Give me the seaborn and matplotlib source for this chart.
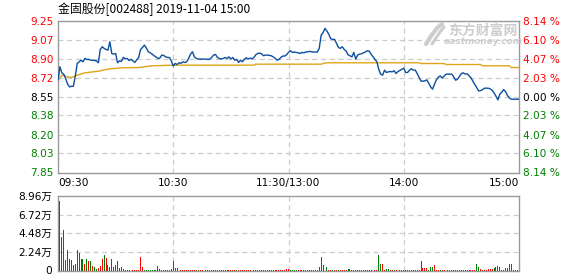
import numpy as np
import pandas as pd
import matplotlib
matplotlib.use("Agg")
import matplotlib.pyplot as plt
from matplotlib.lines import Line2D
import seaborn as sns

# ---------------- data ----------------
title = "金固股份[002488] 2019-11-04 15:00"
pre_close = 8.55
price_ticks = [9.25, 9.07, 8.90, 8.72, 8.55, 8.38, 8.20, 8.03, 7.85]
price_labels = ["9.25", "9.07", "8.90", "8.72", "8.55", "8.38", "8.20", "8.03", "7.85"]
pct_labels = ["8.14 %", "6.10 %", "4.07 %", "2.03 %", "0.00 %", "2.03 %", "4.07 %", "6.10 %", "8.14 %"]
label_side = ["up", "up", "up", "up", "flat", "down", "down", "down", "down"]
time_ticks = [0, 60, 120, 180, 240]
time_labels = ["09:30", "10:30", "11:30/13:00", "14:00", "15:00"]
vol_ticks = [0, 2.24, 4.48, 6.72, 8.96]
vol_labels = ["0", "2.24万", "4.48万", "6.72万", "8.96万"]

price = [
    8.703, 8.827, 8.771, 8.759, 8.718, 8.666, 8.641, 8.647, 8.647, 8.740,
    8.858, 8.873, 8.888, 8.873, 8.904, 8.895, 8.895, 8.888, 8.888, 8.885,
    8.882, 8.864, 8.987, 9.012, 8.997, 8.987, 8.981, 9.058, 8.950, 8.944,
    8.950, 8.864, 8.882, 8.876, 8.913, 8.901, 8.904, 8.885, 8.895, 8.882,
    8.867, 8.892, 8.913, 8.987, 9.006, 9.027, 9.000, 8.966, 8.956, 8.944,
    8.929, 8.919, 8.904, 8.907, 8.935, 8.932, 8.919, 8.913, 8.913, 8.882,
    8.833,
    8.858, 8.848, 8.864, 8.858, 8.873, 8.867, 8.873, 8.904, 8.944, 8.966,
    8.919, 8.904, 8.898, 8.898, 8.898, 8.898, 8.898, 8.895, 8.898, 8.913,
    8.935, 8.941, 8.913, 8.904, 8.898, 8.904, 8.913, 8.904, 8.919, 8.898,
    8.913, 8.888, 8.895, 8.867, 8.888, 8.873, 8.895, 8.910, 8.898, 8.907,
    8.901, 8.913, 8.938, 8.950, 8.953, 8.947, 8.929, 8.935, 8.935, 8.932,
    8.929, 8.919, 8.907, 8.888, 8.895, 8.913, 8.926, 8.926, 8.938, 8.960,
    8.975, 8.960, 8.963, 8.960, 8.956, 8.950, 8.960, 8.956, 8.963, 8.966,
    8.969, 8.966, 8.963, 8.963, 8.963, 8.997, 9.120, 9.142, 9.182, 9.157,
    9.126, 9.086, 9.080, 9.080, 9.043, 9.006, 8.997, 9.012, 8.987, 8.972,
    8.938, 8.929, 8.919, 8.960, 8.898, 8.935, 8.944, 8.947, 8.956, 8.963,
    8.975, 8.972, 8.944, 8.919, 8.895, 8.873, 8.802, 8.759, 8.749, 8.796,
    8.774, 8.780, 8.783, 8.780, 8.790, 8.765, 8.783, 8.793, 8.802, 8.814,
    8.774, 8.774, 8.796, 8.808, 8.796, 8.796, 8.765, 8.728, 8.694, 8.694,
    8.697, 8.706, 8.675, 8.641, 8.620, 8.666, 8.706, 8.731, 8.743, 8.722,
    8.740, 8.759, 8.759, 8.759, 8.759, 8.734, 8.703, 8.712, 8.737, 8.765,
    8.771, 8.759, 8.762, 8.743, 8.725, 8.694, 8.663, 8.635, 8.604, 8.607,
    8.616, 8.629, 8.629, 8.629, 8.623, 8.610, 8.586, 8.555, 8.521, 8.573,
    8.592, 8.616, 8.598, 8.561, 8.539, 8.527, 8.527, 8.527, 8.527, 8.527,
]

avg_minute = [0, 2, 5, 7, 10, 14, 21, 26, 33, 42, 49, 61, 102, 103, 120,
              137, 138, 140, 188, 189, 201, 202, 220, 221, 235, 236, 240]
avg_price = [8.700, 8.749, 8.734, 8.728, 8.749, 8.771, 8.786, 8.805, 8.817, 8.820,
             8.836, 8.842, 8.842, 8.851, 8.851, 8.851, 8.857, 8.864, 8.864, 8.857,
             8.857, 8.848, 8.848, 8.836, 8.836, 8.820, 8.820]

volume = [
    0.00, 8.35, 4.08, 4.89, 1.22, 2.45, 1.43, 1.22, 0.61, 0.82,
    2.45, 2.16, 1.43, 1.43, 0.82, 1.43, 1.10, 1.18, 0.49, 0.41,
    0.20, 0.29, 0.49, 1.34, 1.83, 1.51, 0.69, 0.41, 1.34, 0.41,
    0.61, 1.10, 0.29, 0.41, 0.24, 0.12, 0.12, 0.12, 0.20, 0.12,
    0.12, 0.12, 0.12, 1.63, 0.40, 0.12, 0.12, 0.12, 0.12, 0.12,
    0.12, 0.12, 0.55, 0.15, 0.12, 0.12, 0.12, 0.12, 0.12, 0.15,
    1.10, 0.34, 0.25, 0.12, 0.10, 0.10, 0.10, 0.10, 0.10, 0.10,
    0.10, 0.10, 0.10, 0.10, 0.10, 0.10, 0.10, 0.10, 0.10, 0.10,
    0.10, 0.10, 0.10, 0.10, 0.10, 0.10, 0.10, 0.10, 0.10, 0.10,
    0.10, 0.10, 0.10, 0.10, 0.10, 0.10, 0.10, 0.10, 0.10, 0.10,
    0.10, 0.10, 0.10, 0.10, 0.10, 0.10, 0.10, 0.10, 0.10, 0.10,
    0.10, 0.10, 0.10, 0.10, 0.10, 0.10, 0.10, 0.10, 0.10, 0.15,
    0.20, 0.10, 0.10, 0.10, 0.10, 0.10, 0.10, 0.10, 0.10, 0.10,
    0.10, 0.10, 0.10, 0.10, 0.10, 0.10, 0.41, 1.63, 0.61, 0.49,
    0.37, 0.10, 0.10, 0.10, 0.10, 0.10, 0.10, 0.10, 0.10, 0.10,
    0.10, 0.24, 0.24, 0.10, 0.10, 0.10, 0.10, 0.10, 0.10, 0.10,
    0.10, 0.10, 0.10, 0.10, 0.24, 0.10, 0.10, 1.83, 0.73, 0.73,
    0.12, 0.24, 0.24, 0.12, 0.10, 0.10, 0.10, 0.10, 0.10, 0.10,
    0.10, 0.10, 0.10, 0.10, 0.10, 0.10, 0.10, 0.10, 0.10, 1.13,
    0.25, 0.25, 0.25, 0.10, 0.37, 0.37, 0.61, 0.10, 0.10, 0.10,
    0.10, 0.10, 0.10, 0.10, 0.10, 0.10, 0.10, 0.10, 0.10, 0.10,
    0.10, 0.10, 0.10, 0.10, 0.10, 0.10, 0.10, 0.10, 0.84, 0.37,
    0.20, 0.12, 0.12, 0.12, 0.15, 0.15, 0.20, 0.29, 0.37, 0.49,
    0.37, 0.12, 0.12, 0.25, 0.25, 0.84, 0.84, 0.12, 0.12, 0.05,
    0.84,
]

updown = "".join([
    "r",
    "rggrgrgrrr", "gggrgrgrgg", "rrrgrgrgrg", "grrrgrggrr",
    "rrrrgggggg", "grgggggggg", "rrrrrrrrrr", "rrgrrrrrrr",
    "grrrrrrrrr", "rrgrrrrrrr", "rgrrrrrrrr", "grrrrrrrrr",
    "ggggrrrrrr", "ggrrrrrgrg", "rrgrrgrrrr", "ggrrrrrrrr",
    "rrrgrrggrr", "ggrrgrrgrr", "rrgrrrrrgr", "rrgggrrrgr",
    "rrrrrrgrrr", "rrgrrrrggr", "rrrrrrgggr", "rrggggggrr",
])

# ---------------- styling ----------------
sns.set_style("white")
plt.rcParams["font.family"] = ["DejaVu Sans", "Noto Sans CJK SC"]

RED = "#ff0000"
GREEN = "#008000"
GRID = "#cccccc"
FRAME = "#9a9a9a"
BLUE = "#0c4f9e"
ORANGE = "#e0a418"
W, H = 578, 276

fig = plt.figure(figsize=(W / 100, H / 100), dpi=100)
fig.patch.set_facecolor("white")

L, R = 58, 519
ax = fig.add_axes([L / W, 1 - 172.5 / H, (R - L) / W, (172.5 - 21) / H])
axv = fig.add_axes([L / W, 1 - 270.5 / H, (R - L) / W, (270.5 - 196) / H])

minutes = np.arange(len(price))
df = pd.DataFrame({"minute": minutes, "price": price})
dfa = pd.DataFrame({"minute": avg_minute, "avg": avg_price})

sns.lineplot(data=dfa, x="minute", y="avg", ax=ax, color=ORANGE, lw=1.0, zorder=3)
sns.lineplot(data=df, x="minute", y="price", ax=ax, color=BLUE, lw=1.0, zorder=4)

ax.set_xlim(0, 240)
ax.set_ylim(price_ticks[-1], price_ticks[0])
ax.set_xlabel("")
ax.set_ylabel("")
dash = (0, (4, 3))
for t in price_ticks[1:-1]:
    ax.axhline(t, color=GRID, lw=0.9, ls=dash, zorder=1)
for t in time_ticks[1:-1]:
    ax.axvline(t, color=GRID, lw=0.9, ls=dash, zorder=1)

ax.set_yticks(price_ticks)
ax.set_yticklabels(price_labels, fontsize=7.6)
side_color = {"up": RED, "flat": "black", "down": GREEN}
for lab, s in zip(ax.get_yticklabels(), label_side):
    lab.set_color(side_color[s])
ax.set_xticks(time_ticks)
ax.set_xticklabels(time_labels, fontsize=7.6, color="black")
xl = ax.get_xticklabels()
xl[0].set_horizontalalignment("left")
xl[-1].set_horizontalalignment("right")
ax.tick_params(length=0, pad=3)
ax.tick_params(axis="x", pad=4)

ax2 = ax.twinx()
ax2.set_ylim(price_ticks[-1], price_ticks[0])
ax2.set_yticks(price_ticks)
ax2.set_yticklabels(pct_labels, fontsize=7.6)
for lab, s in zip(ax2.get_yticklabels(), label_side):
    lab.set_color(side_color[s])
ax2.tick_params(length=0, pad=3)
for sp in ax2.spines.values():
    sp.set_visible(False)

for sp in ax.spines.values():
    sp.set_visible(True)
    sp.set_color(FRAME)
    sp.set_linewidth(1.0)

# ---------------- volume ----------------
bar_colors = [RED if c == "r" else GREEN for c in updown]
axv.bar(minutes, volume, width=0.5, color=bar_colors, linewidth=0,
        antialiased=False, zorder=3)
axv.set_xlim(0, 240)
axv.set_ylim(0, vol_ticks[-1])
for t in vol_ticks[1:-1]:
    axv.axhline(t, color=GRID, lw=0.9, ls=dash, zorder=1)
for t in time_ticks[1:-1]:
    axv.axvline(t, color=GRID, lw=0.9, ls=dash, zorder=1)
axv.set_yticks(vol_ticks)
axv.set_yticklabels(vol_labels, fontsize=7.6, color="black")
axv.set_xticks([])
axv.tick_params(length=0, pad=4)
for sp in axv.spines.values():
    sp.set_visible(True)
    sp.set_color(FRAME)
    sp.set_linewidth(1.0)

# ---------------- texts ----------------
fig.text(L / W, 1 - 9.5 / H, title, fontsize=8.6, color="black", va="center", ha="left",
         family=["Noto Sans CJK SC", "DejaVu Sans"])
WM = "#cdcdcd"
fig.text(483 / W, 1 - 30.5 / H, "东方财富网", fontsize=10, color=WM, fontweight="bold",
         va="center", ha="center", family=["Noto Sans CJK SC"])
fig.text(483 / W, 1 - 41.5 / H, "eastmoney.com", fontsize=6.5, color=WM, fontweight="bold",
         style="italic", va="center", ha="center")
# simple swoosh mark of the watermark
for xs, ys, lw in [([426, 431, 437, 442], [44, 36, 28, 24], 3.0),
                   ([432, 436, 440, 444], [44, 38, 32, 27], 2.2)]:
    fig.add_artist(Line2D([x / W for x in xs], [1 - y / H for y in ys],
                          color=WM, lw=lw, solid_capstyle="round",
                          transform=fig.transFigure))

fig.savefig("out.png", dpi=100)
